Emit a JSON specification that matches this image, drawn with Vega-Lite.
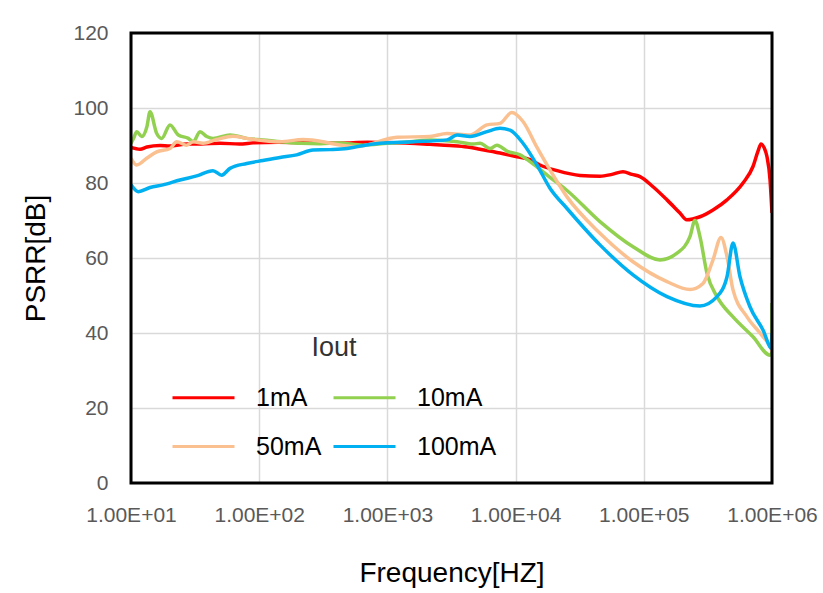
{
  "$schema": "https://vega.github.io/schema/vega-lite/v6.json",
  "autosize": {"type": "none"},
  "width": 641,
  "height": 450,
  "padding": {"left": 131, "top": 33, "right": 51, "bottom": 110},
  "background": "white",
  "layer": [
    {
      "data": {"values": [
        {"f": 10, "v": 89.5, "s": "1mA"}, {"f": 11.75, "v": 89.0, "s": "1mA"}, {"f": 13.3, "v": 89.6, "s": "1mA"}, {"f": 16.83, "v": 90.0, "s": "1mA"}, {"f": 20.1, "v": 89.9, "s": "1mA"}, {"f": 27.35, "v": 90.4, "s": "1mA"}, {"f": 35, "v": 90.4, "s": "1mA"}, {"f": 49.43, "v": 90.6, "s": "1mA"}, {"f": 70, "v": 90.4, "s": "1mA"}, {"f": 89.45, "v": 90.7, "s": "1mA"}, {"f": 140, "v": 90.9, "s": "1mA"}, {"f": 208, "v": 90.8, "s": "1mA"}, {"f": 300, "v": 90.6, "s": "1mA"}, {"f": 510.5, "v": 90.7, "s": "1mA"}, {"f": 700, "v": 90.9, "s": "1mA"}, {"f": 993, "v": 90.8, "s": "1mA"}, {"f": 1500, "v": 90.6, "s": "1mA"}, {"f": 2149, "v": 90.3, "s": "1mA"}, {"f": 3076, "v": 90.0, "s": "1mA"}, {"f": 4200, "v": 89.6, "s": "1mA"}, {"f": 5277, "v": 89.0, "s": "1mA"}, {"f": 7551, "v": 88.0, "s": "1mA"}, {"f": 10250, "v": 87.0, "s": "1mA"}, {"f": 12950, "v": 86.2, "s": "1mA"}, {"f": 15490, "v": 84.8, "s": "1mA"}, {"f": 21040, "v": 83.3, "s": "1mA"}, {"f": 31790, "v": 82.0, "s": "1mA"}, {"f": 45500, "v": 81.8, "s": "1mA"}, {"f": 56490, "v": 82.3, "s": "1mA"}, {"f": 68820, "v": 83.0, "s": "1mA"}, {"f": 80910, "v": 82.3, "s": "1mA"}, {"f": 93330, "v": 81.7, "s": "1mA"}, {"f": 118000, "v": 79.0, "s": "1mA"}, {"f": 151700, "v": 75.5, "s": "1mA"}, {"f": 191400, "v": 72.0, "s": "1mA"}, {"f": 216100, "v": 70.2, "s": "1mA"}, {"f": 274200, "v": 71.0, "s": "1mA"}, {"f": 346600, "v": 72.8, "s": "1mA"}, {"f": 445700, "v": 75.5, "s": "1mA"}, {"f": 594100, "v": 80.0, "s": "1mA"}, {"f": 710900, "v": 84.4, "s": "1mA"}, {"f": 777800, "v": 88.5, "s": "1mA"}, {"f": 821200, "v": 90.4, "s": "1mA"}, {"f": 866200, "v": 89.5, "s": "1mA"}, {"f": 914100, "v": 87.0, "s": "1mA"}, {"f": 964700, "v": 81.0, "s": "1mA"}, {"f": 1000000, "v": 72.0, "s": "1mA"},

        {"f": 10, "v": 90.6, "s": "10mA"}, {"f": 10.5, "v": 92.0, "s": "10mA"}, {"f": 11.08, "v": 93.7, "s": "10mA"}, {"f": 12.12, "v": 92.4, "s": "10mA"}, {"f": 13.3, "v": 95.0, "s": "10mA"}, {"f": 14.07, "v": 99.0, "s": "10mA"}, {"f": 15.87, "v": 93.2, "s": "10mA"}, {"f": 17.36, "v": 91.9, "s": "10mA"}, {"f": 20.14, "v": 95.5, "s": "10mA"}, {"f": 23.39, "v": 92.8, "s": "10mA"}, {"f": 27.99, "v": 91.9, "s": "10mA"}, {"f": 30.62, "v": 91.0, "s": "10mA"}, {"f": 34.52, "v": 93.7, "s": "10mA"}, {"f": 38.95, "v": 92.4, "s": "10mA"}, {"f": 43.62, "v": 91.9, "s": "10mA"}, {"f": 59.16, "v": 92.8, "s": "10mA"}, {"f": 79.9, "v": 91.9, "s": "10mA"}, {"f": 107.1, "v": 91.5, "s": "10mA"}, {"f": 150, "v": 91.0, "s": "10mA"}, {"f": 210, "v": 90.6, "s": "10mA"}, {"f": 300, "v": 90.5, "s": "10mA"}, {"f": 420, "v": 90.7, "s": "10mA"}, {"f": 645.1, "v": 90.1, "s": "10mA"}, {"f": 1000, "v": 90.6, "s": "10mA"}, {"f": 1500, "v": 91.0, "s": "10mA"}, {"f": 2149, "v": 91.5, "s": "10mA"}, {"f": 3491, "v": 91.0, "s": "10mA"}, {"f": 4653, "v": 90.4, "s": "10mA"}, {"f": 5277, "v": 90.6, "s": "10mA"}, {"f": 6315, "v": 89.2, "s": "10mA"}, {"f": 7159, "v": 90.1, "s": "10mA"}, {"f": 8570, "v": 88.5, "s": "10mA"}, {"f": 10820, "v": 87.5, "s": "10mA"}, {"f": 12950, "v": 85.7, "s": "10mA"}, {"f": 18540, "v": 81.5, "s": "10mA"}, {"f": 25180, "v": 78.0, "s": "10mA"}, {"f": 45500, "v": 69.7, "s": "10mA"}, {"f": 82380, "v": 63.0, "s": "10mA"}, {"f": 133800, "v": 59.5, "s": "10mA"}, {"f": 181600, "v": 61.3, "s": "10mA"}, {"f": 229100, "v": 65.7, "s": "10mA"}, {"f": 250600, "v": 70.0, "s": "10mA"}, {"f": 274200, "v": 65.7, "s": "10mA"}, {"f": 311200, "v": 55.9, "s": "10mA"}, {"f": 372400, "v": 49.7, "s": "10mA"}, {"f": 496500, "v": 44.3, "s": "10mA"}, {"f": 710900, "v": 39.0, "s": "10mA"}, {"f": 964700, "v": 34.1, "s": "10mA"}, {"f": 994700, "v": 34.5, "s": "10mA"}, {"f": 1000000, "v": 48.0, "s": "10mA"},

        {"f": 10, "v": 86.6, "s": "50mA"}, {"f": 11.08, "v": 84.8, "s": "50mA"}, {"f": 13.26, "v": 86.6, "s": "50mA"}, {"f": 15.87, "v": 88.3, "s": "50mA"}, {"f": 20.14, "v": 89.2, "s": "50mA"}, {"f": 22.73, "v": 91.0, "s": "50mA"}, {"f": 27.2, "v": 90.1, "s": "50mA"}, {"f": 30.62, "v": 91.0, "s": "50mA"}, {"f": 36.44, "v": 90.6, "s": "50mA"}, {"f": 46.61, "v": 91.6, "s": "50mA"}, {"f": 62.46, "v": 92.5, "s": "50mA"}, {"f": 79.9, "v": 91.9, "s": "50mA"}, {"f": 145.2, "v": 91.0, "s": "50mA"}, {"f": 219.7, "v": 91.6, "s": "50mA"}, {"f": 314.6, "v": 91.0, "s": "50mA"}, {"f": 356.5, "v": 90.6, "s": "50mA"}, {"f": 579.4, "v": 89.7, "s": "50mA"}, {"f": 1188, "v": 92.2, "s": "50mA"}, {"f": 2149, "v": 92.4, "s": "50mA"}, {"f": 2917, "v": 93.2, "s": "50mA"}, {"f": 4410, "v": 92.8, "s": "50mA"}, {"f": 5983, "v": 95.5, "s": "50mA"}, {"f": 7551, "v": 95.9, "s": "50mA"}, {"f": 9325, "v": 98.8, "s": "50mA"}, {"f": 11420, "v": 96.4, "s": "50mA"}, {"f": 14690, "v": 89.5, "s": "50mA"}, {"f": 18540, "v": 83.5, "s": "50mA"}, {"f": 25180, "v": 76.3, "s": "50mA"}, {"f": 45500, "v": 66.6, "s": "50mA"}, {"f": 82380, "v": 59.0, "s": "50mA"}, {"f": 151700, "v": 53.7, "s": "50mA"}, {"f": 229100, "v": 51.6, "s": "50mA"}, {"f": 289600, "v": 53.2, "s": "50mA"}, {"f": 346600, "v": 59.5, "s": "50mA"}, {"f": 400200, "v": 65.5, "s": "50mA"}, {"f": 445700, "v": 60.4, "s": "50mA"}, {"f": 496500, "v": 51.5, "s": "50mA"}, {"f": 638300, "v": 44.3, "s": "50mA"}, {"f": 850800, "v": 39.0, "s": "50mA"}, {"f": 994700, "v": 35.5, "s": "50mA"}, {"f": 1000000, "v": 35.0, "s": "50mA"},

        {"f": 10, "v": 79.5, "s": "100mA"}, {"f": 11.4, "v": 77.7, "s": "100mA"}, {"f": 14.07, "v": 78.8, "s": "100mA"}, {"f": 17.77, "v": 79.5, "s": "100mA"}, {"f": 24.1, "v": 80.8, "s": "100mA"}, {"f": 32.54, "v": 81.9, "s": "100mA"}, {"f": 43.62, "v": 83.3, "s": "100mA"}, {"f": 51.0, "v": 82.1, "s": "100mA"}, {"f": 59.16, "v": 83.9, "s": "100mA"}, {"f": 79.9, "v": 85.2, "s": "100mA"}, {"f": 107.1, "v": 86.0, "s": "100mA"}, {"f": 145.2, "v": 86.8, "s": "100mA"}, {"f": 196.1, "v": 87.5, "s": "100mA"}, {"f": 262.9, "v": 88.8, "s": "100mA"}, {"f": 356.5, "v": 88.9, "s": "100mA"}, {"f": 484.2, "v": 89.2, "s": "100mA"}, {"f": 600, "v": 89.8, "s": "100mA"}, {"f": 875.6, "v": 90.6, "s": "100mA"}, {"f": 1584, "v": 91.0, "s": "100mA"}, {"f": 2917, "v": 91.5, "s": "100mA"}, {"f": 3491, "v": 92.8, "s": "100mA"}, {"f": 4410, "v": 92.4, "s": "100mA"}, {"f": 5983, "v": 93.7, "s": "100mA"}, {"f": 7551, "v": 94.6, "s": "100mA"}, {"f": 9046, "v": 94.1, "s": "100mA"}, {"f": 11420, "v": 90.6, "s": "100mA"}, {"f": 14690, "v": 84.8, "s": "100mA"}, {"f": 18540, "v": 78.6, "s": "100mA"}, {"f": 25180, "v": 73.2, "s": "100mA"}, {"f": 45500, "v": 63.5, "s": "100mA"}, {"f": 82380, "v": 55.5, "s": "100mA"}, {"f": 151700, "v": 49.7, "s": "100mA"}, {"f": 274200, "v": 47.2, "s": "100mA"}, {"f": 372400, "v": 49.7, "s": "100mA"}, {"f": 445700, "v": 55.0, "s": "100mA"}, {"f": 496500, "v": 64.0, "s": "100mA"}, {"f": 562900, "v": 55.0, "s": "100mA"}, {"f": 673000, "v": 47.0, "s": "100mA"}, {"f": 850800, "v": 40.8, "s": "100mA"}, {"f": 994700, "v": 35.9, "s": "100mA"}, {"f": 1000000, "v": 40.0, "s": "100mA"}
      ]},
      "mark": {"type": "line", "strokeWidth": 3.5, "interpolate": "monotone", "clip": true},
      "encoding": {
        "x": {
          "field": "f", "type": "quantitative",
          "scale": {"type": "log", "domain": [10, 1000000], "nice": false},
          "axis": {
            "values": [10, 100, 1000, 10000, 100000, 1000000],
            "labelExpr": "'1.00E+0' + round(log(datum.value) / LN10)",
            "labelOverlap": false,
            "labelBound": false,
            "labelFlush": false,
            "title": "Frequency[HZ]",
            "titlePadding": 34
          }
        },
        "y": {
          "field": "v", "type": "quantitative",
          "scale": {"domain": [0, 120], "nice": false},
          "axis": {
            "values": [0, 20, 40, 60, 80, 100, 120],
            "title": "PSRR[dB]",
            "titlePadding": 22
          }
        },
        "color": {
          "field": "s", "type": "nominal",
          "scale": {"domain": ["1mA", "10mA", "50mA", "100mA"], "range": ["#ff0000", "#92d050", "#fac090", "#00b0f0"]},
          "legend": {
            "title": "Iout",
            "orient": "none",
            "direction": "horizontal",
            "legendX": 40,
            "legendY": 302,
            "columns": 2,
            "symbolType": "stroke",
            "symbolSize": 3844,
            "symbolStrokeWidth": 3,
            "labelOffset": 20,
            "columnPadding": 5,
            "rowPadding": 3,
            "titleAnchor": "middle",
            "titlePadding": 3,
            "encode": {
              "symbols": {
                "enter": {
                  "stroke": {"signal": "datum.label == '10mA' ? '#00b050' : datum.label == '50mA' ? '#f79646' : datum.label == '1mA' ? '#ff0000' : '#00b0f0'"}
                },
                "update": {
                  "stroke": {"signal": "datum.label == '10mA' ? '#00b050' : datum.label == '50mA' ? '#f79646' : datum.label == '1mA' ? '#ff0000' : '#00b0f0'"}
                }
              }
            }
          }
        }
      }
    },
    {
      "data": {"values": [{"frame": "plot"}]},
      "mark": {"type": "rect", "fill": null, "stroke": "black", "strokeWidth": 3, "clip": false},
      "encoding": {
        "x": {"datum": 10},
        "x2": {"datum": 1000000},
        "y": {"datum": 0},
        "y2": {"datum": 120}
      }
    }
  ],
  "config": {
    "font": "Liberation Sans",
    "view": {"stroke": null},
    "axis": {
      "domain": false,
      "ticks": false,
      "grid": true,
      "gridColor": "#d9d9d9",
      "gridWidth": 1.5,
      "labelFont": "Liberation Sans",
      "labelFontSize": 21,
      "labelColor": "#595959",
      "labelPadding": 21,
      "titleFont": "Liberation Sans",
      "titleFontSize": 28,
      "titleFontWeight": "normal",
      "titleColor": "black"
    },
    "axisY": {"labelPadding": 23},
    "legend": {
      "labelFont": "Liberation Sans",
      "labelFontSize": 25,
      "labelColor": "black",
      "titleFont": "Liberation Sans",
      "titleFontSize": 27,
      "titleFontWeight": "normal",
      "titleColor": "#333333"
    }
  }
}
